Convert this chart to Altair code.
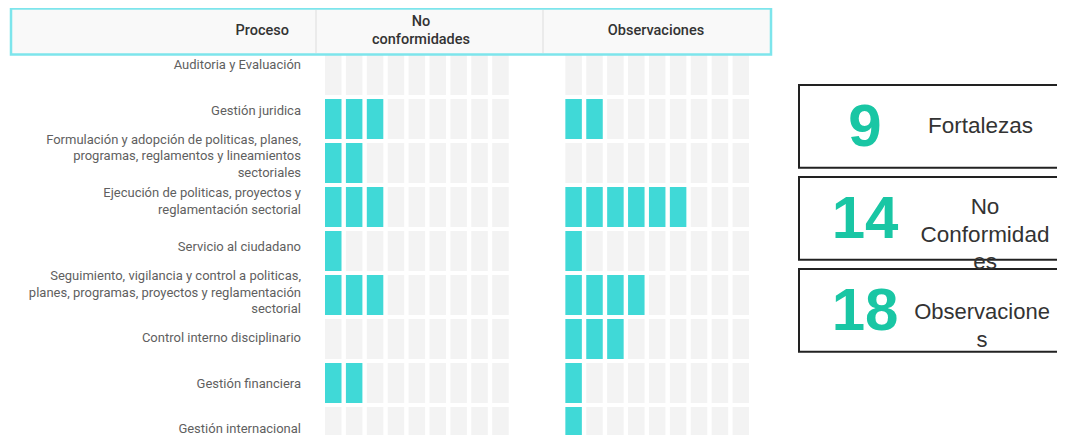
import altair as alt
import pandas as pd

# ---------------- datos ----------------
procesos = [
    "Auditoria y Evaluación",
    "Gestión juridica",
    "Formulación y adopción de politicas, planes,\nprogramas, reglamentos y lineamientos\nsectoriales ",
    "Ejecución de politicas, proyectos y\nreglamentación sectorial",
    "Servicio al ciudadano ",
    "Seguimiento, vigilancia y control a politicas,\nplanes, programas, proyectos y reglamentación\nsectorial",
    "Control interno disciplinario",
    "Gestión financiera",
    "Gestión internacional",
]
no_conformidades = [0, 3, 2, 3, 1, 3, 0, 2, 0]
observaciones = [0, 2, 0, 6, 1, 4, 3, 1, 1]
grupos = ["No conformidades", "Observaciones"]
casillas = 9

encabezados = ["Proceso", "No\nconformidades", "Observaciones"]

resumen_valores = [9, 14, 18]
resumen_etiquetas = ["Fortalezas", "No\nConformidad\nes", "Observacione\ns"]

# ---------------- estilos ----------------
TEAL = "#40D9D7"
GRIS = "#F3F3F3"
VERDE_NUM = "#19C6A4"
CIAN_BORDE = "#7DE5EC"
LH_ETIQ = 16.5
PASO_ETIQ = (421 - 57) / 8

filas = []
for g_i, valores in enumerate([no_conformidades, observaciones]):
    for f, (proc, v) in enumerate(zip(procesos, valores)):
        for c in range(casillas):
            filas.append(dict(proceso=proc, fila=f, grupo=grupos[g_i], g=g_i,
                              casilla=c, lleno="si" if c < v else "no"))
celdas = pd.DataFrame(filas)

escala_x = alt.Scale(domain=[0, 20.5], range=[317, 745.45], nice=False, zero=False)
escala_y = alt.Scale(domain=[0, 9], range=[47, 443], nice=False, zero=False)
escala_etq = alt.Scale(domain=[0, 8], range=[57, 421], nice=False, zero=False)
escala_r = alt.Scale(domain=[0, 3], range=[77, 353], nice=False, zero=False)

capa_celdas = alt.Chart(celdas).transform_calculate(
    x0="datum.casilla + datum.g * 11.5",
    x1="datum.casilla + datum.g * 11.5 + 0.79",
    y1="datum.fila + 0.909",
).mark_rect(clip=True).encode(
    x=alt.X("x0:Q", scale=escala_x, axis=None),
    x2="x1:Q",
    y=alt.Y("fila:Q", scale=escala_y, axis=None),
    y2="y1:Q",
    color=alt.Color("lleno:N", scale=alt.Scale(domain=["si", "no"], range=[TEAL, GRIS]), legend=None),
)

etiquetas_df = pd.DataFrame({"proceso": procesos, "fila": list(range(len(procesos)))})
capa_etiquetas = alt.Chart(etiquetas_df).transform_calculate(
    yc=f"datum.fila - (split(datum.proceso, '\\n').length - 1) * {LH_ETIQ / 2 / PASO_ETIQ}"
).mark_text(
    align="right", baseline="middle", font="Roboto", fontSize=13,
    color="#5f5f5f", lineBreak="\n", lineHeight=LH_ETIQ,
).encode(
    x=alt.value(293),
    y=alt.Y("yc:Q", scale=escala_etq, axis=None),
    text="proceso:N",
)

uno = pd.DataFrame({"k": [0]})
caja_enc = alt.Chart(uno).mark_rect(
    fill="#F9F9F9", stroke=CIAN_BORDE, strokeWidth=2.5
).encode(x=alt.value(3), x2=alt.value(763), y=alt.value(0.5), y2=alt.value(46.5))

divisores = [
    alt.Chart(uno).mark_rule(color="#E6E6E6", strokeWidth=1.5).encode(
        x=alt.value(xv), y=alt.value(2), y2=alt.value(45))
    for xv in [308, 535]
]

enc_df = pd.DataFrame({"texto": encabezados})
enc_pos = [(281, "right"), (413, "center"), (648, "center")]
capas_enc = []
for i, (xv, al) in enumerate(enc_pos):
    n_lineas = encabezados[i].count("\n") + 1
    capas_enc.append(
        alt.Chart(enc_df).transform_filter(f"datum.texto == {encabezados[i]!r}").mark_text(
            align=al, baseline="middle", font="Roboto", fontSize=14.5, fontWeight=500,
            color="#333333", lineBreak="\n", lineHeight=18,
        ).encode(x=alt.value(xv), y=alt.value(23 - (n_lineas - 1) * 9), text="texto:N")
    )

resumen_df = pd.DataFrame({"i": [0, 1, 2], "valor": resumen_valores, "etiqueta": resumen_etiquetas})
cajas_res = alt.Chart(resumen_df).transform_calculate(i2="datum.i + 0.9").mark_rect(
    fill="white", stroke="#222222", strokeWidth=2, clip=True
).encode(
    x=alt.value(791), x2=alt.value(1120),
    y=alt.Y("i:Q", scale=escala_r, axis=None), y2="i2:Q",
)
numeros = alt.Chart(resumen_df).mark_text(
    align="center", baseline="alphabetic", dy=61, font="Liberation Sans",
    fontSize=60, fontWeight="bold", color=VERDE_NUM,
).encode(x=alt.value(857), y=alt.Y("i:Q", scale=escala_r, axis=None), text="valor:N")

lbl_pos = [(972.5, 48), (977, 37), (974, 50)]
capas_lbl = []
for i, (xv, dyv) in enumerate(lbl_pos):
    capas_lbl.append(
        alt.Chart(resumen_df).transform_filter(f"datum.i == {i}").mark_text(
            align="center", baseline="alphabetic", dy=dyv, font="Liberation Sans",
            fontSize=22.5 if i < 2 else 22, color="#333333", lineBreak="\n", lineHeight=27.5,
        ).encode(x=alt.value(xv), y=alt.Y("i:Q", scale=escala_r, axis=None), text="etiqueta:N")
    )

chart = alt.layer(
    capa_celdas, capa_etiquetas, caja_enc, *divisores, *capas_enc,
    cajas_res, numeros, *capas_lbl,
).resolve_scale(y="independent").properties(
    width=1049, height=427, padding=0, autosize=alt.AutoSizeParams(type="none"),
    background="white",
).configure_view(stroke=None)

chart.save("out.html", embed_options={"renderer": "svg", "actions": False})
